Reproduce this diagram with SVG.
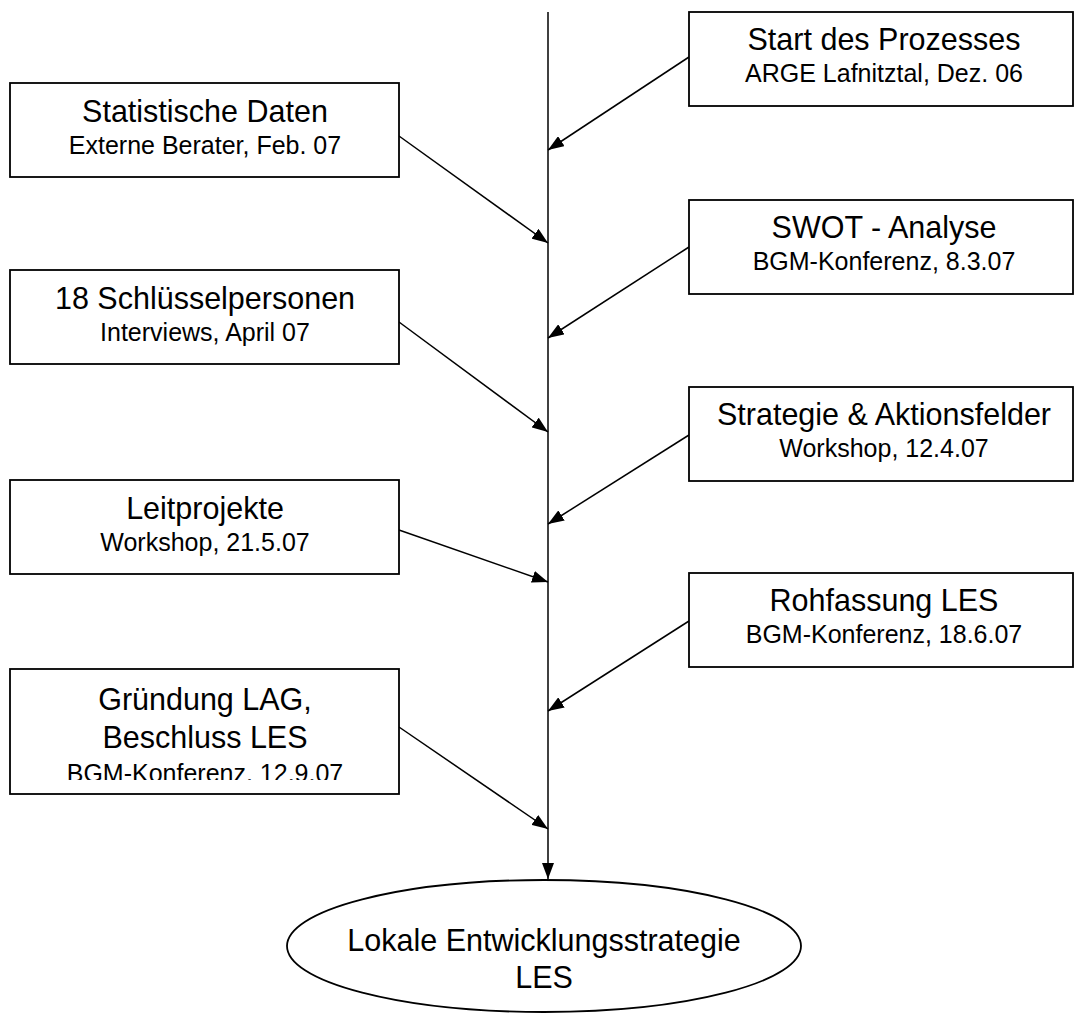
<svg xmlns="http://www.w3.org/2000/svg" width="1075" height="1013" viewBox="0 0 1075 1013">
<style>
.box{fill:#fff;stroke:#000;stroke-width:1.8}
.t{font-family:"Liberation Sans",Arial,sans-serif;font-size:30.5px;fill:#000;text-anchor:middle}
.s{font-family:"Liberation Sans",Arial,sans-serif;font-size:25px;fill:#000;text-anchor:middle}
.c{stroke:#000;stroke-width:1.5;fill:none}
</style>
<defs>
<marker id="ah" viewBox="0 0 16 12" refX="16" refY="6" markerWidth="16" markerHeight="12" markerUnits="userSpaceOnUse" orient="auto">
<path d="M0,0 L16,6 L0,12 z" fill="#000"/>
</marker>
<clipPath id="clipG"><rect x="10" y="669" width="390" height="111"/></clipPath>
</defs>
<rect width="1075" height="1013" fill="#fff"/>
<g id="connectors">
<line class="c" x1="548" y1="12" x2="548" y2="879" marker-end="url(#ah)"/>
<line class="c" x1="689" y1="57" x2="548" y2="150" marker-end="url(#ah)"/>
<line class="c" x1="399" y1="136" x2="548" y2="243" marker-end="url(#ah)"/>
<line class="c" x1="689" y1="247" x2="548" y2="338" marker-end="url(#ah)"/>
<line class="c" x1="399" y1="322" x2="548" y2="432" marker-end="url(#ah)"/>
<line class="c" x1="689" y1="435" x2="548" y2="524" marker-end="url(#ah)"/>
<line class="c" x1="399" y1="530" x2="548" y2="582" marker-end="url(#ah)"/>
<line class="c" x1="689" y1="621" x2="548" y2="711" marker-end="url(#ah)"/>
<line class="c" x1="399" y1="727" x2="548" y2="829" marker-end="url(#ah)"/>
</g>
<g id="n-start">
<rect class="box" x="689" y="12" width="384" height="94"/>
<text class="t" x="884" y="50">Start des Prozesses</text>
<text class="s" x="884" y="82">ARGE Lafnitztal, Dez. 06</text>
</g>
<g id="n-statistik">
<rect class="box" x="10" y="83" width="389" height="94"/>
<text class="t" x="205" y="122">Statistische Daten</text>
<text class="s" x="205" y="154">Externe Berater, Feb. 07</text>
</g>
<g id="n-swot">
<rect class="box" x="689" y="200" width="384" height="94"/>
<text class="t" x="884" y="238">SWOT - Analyse</text>
<text class="s" x="884" y="270">BGM-Konferenz, 8.3.07</text>
</g>
<g id="n-schluessel">
<rect class="box" x="10" y="270" width="389" height="94"/>
<text class="t" x="205" y="309">18 Schlüsselpersonen</text>
<text class="s" x="205" y="341">Interviews, April 07</text>
</g>
<g id="n-strategie">
<rect class="box" x="689" y="387" width="384" height="94"/>
<text class="t" x="884" y="425">Strategie &amp; Aktionsfelder</text>
<text class="s" x="884" y="457">Workshop, 12.4.07</text>
</g>
<g id="n-leit">
<rect class="box" x="10" y="480" width="389" height="94"/>
<text class="t" x="205" y="519">Leitprojekte</text>
<text class="s" x="205" y="551">Workshop, 21.5.07</text>
</g>
<g id="n-roh">
<rect class="box" x="689" y="573" width="384" height="94"/>
<text class="t" x="884" y="611">Rohfassung LES</text>
<text class="s" x="884" y="643">BGM-Konferenz, 18.6.07</text>
</g>
<g id="n-gruendung">
<rect class="box" x="10" y="669" width="389" height="125"/>
<text class="t" x="205" y="710">Gründung LAG,</text>
<text class="t" x="205" y="748">Beschluss LES</text>
<text class="s" x="205" y="782" clip-path="url(#clipG)">BGM-Konferenz, 12.9.07</text>
</g>
<g id="n-les">
<ellipse cx="544" cy="946" rx="257" ry="66" fill="#fff" stroke="#000" stroke-width="1.8"/>
<text class="t" x="544" y="951">Lokale Entwicklungsstrategie</text>
<text class="t" x="544" y="988">LES</text>
</g>
</svg>
